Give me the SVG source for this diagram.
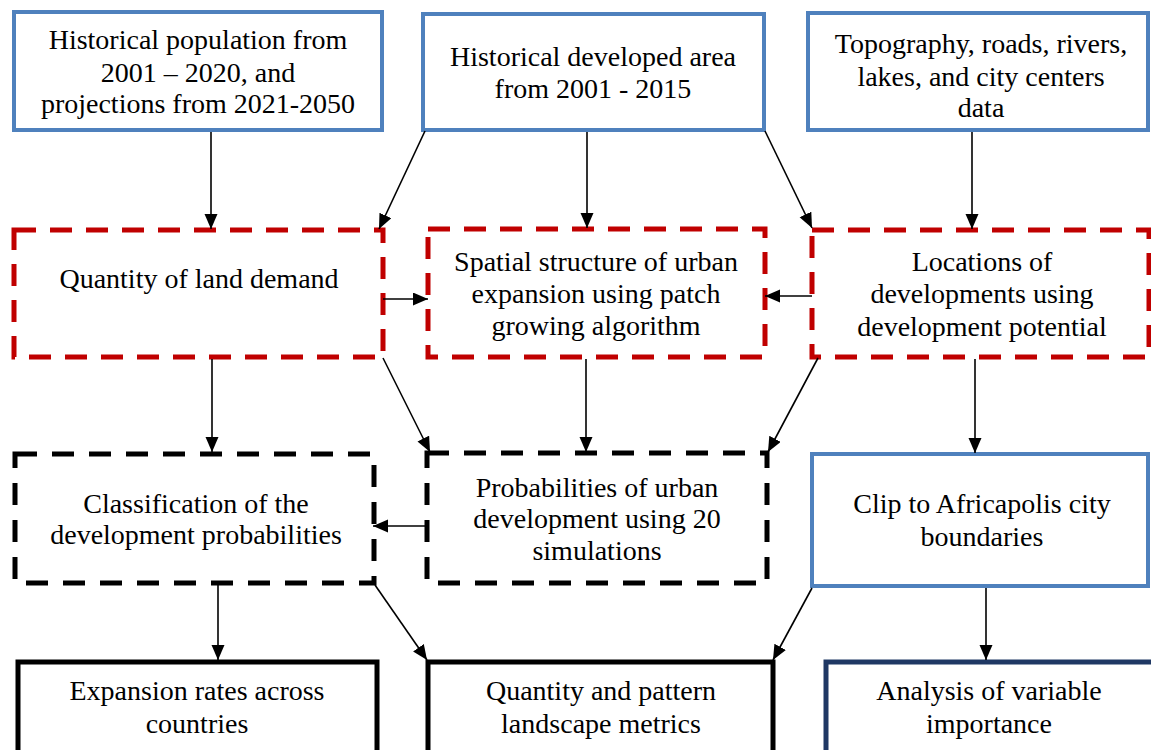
<svg xmlns="http://www.w3.org/2000/svg" width="1151" height="750" viewBox="0 0 1151 750">
<style>
text{font-size:28px;fill:#000;text-anchor:middle}
.blue{fill:#fff;stroke:#4F81BD;stroke-width:4}
.red{fill:#fff;stroke:#C00000;stroke-width:5;stroke-dasharray:22 14}
.bd{fill:#fff;stroke:#000;stroke-width:5;stroke-dasharray:22 15}
.blk{fill:#fff;stroke:#000;stroke-width:5}
.navy{fill:#fff;stroke:#1F3864;stroke-width:5}
.conn line{stroke:#000;stroke-width:1.6;marker-end:url(#ah)}
</style>
<defs>
<marker id="ah" markerUnits="userSpaceOnUse" markerWidth="16" markerHeight="14" refX="15" refY="6.5" orient="auto">
<path d="M0,0 L15,6.5 L0,13 z" fill="#000"/>
</marker>
</defs>
<rect width="1151" height="750" fill="#fff"/>
<g font-family="'Liberation Serif', 'DejaVu Serif', serif">
<g id="n1"><rect class="blue" x="14" y="12" width="368" height="118"/>
<text x="198" y="49">Historical population from</text>
<text x="198" y="82">2001 – 2020, and</text>
<text x="198" y="113">projections from 2021-2050</text></g>

<g id="n2"><rect class="blue" x="423" y="14" width="341" height="116"/>
<text x="593" y="66">Historical developed area</text>
<text x="593" y="98">from 2001 - 2015</text></g>

<g id="n3"><rect class="blue" x="808" y="13" width="340" height="117"/>
<text x="981" y="53">Topography, roads, rivers,</text>
<text x="981" y="86">lakes, and city centers</text>
<text x="981" y="117">data</text></g>

<g id="n4"><rect class="red" x="14" y="230" width="369" height="127"/>
<text x="199" y="288">Quantity of land demand</text></g>

<g id="n5"><rect class="red" x="428" y="229" width="337" height="128"/>
<text x="596" y="271">Spatial structure of urban</text>
<text x="596" y="303">expansion using patch</text>
<text x="596" y="335">growing algorithm</text></g>

<g id="n6"><rect class="red" x="812" y="230" width="337" height="127"/>
<text x="982" y="271">Locations of</text>
<text x="982" y="303">developments using</text>
<text x="982" y="336">development potential</text></g>

<g id="n7"><rect class="bd" x="15" y="454" width="359" height="129"/>
<text x="196" y="513">Classification of the</text>
<text x="196" y="544">development probabilities</text></g>

<g id="n8"><rect class="bd" x="427" y="453" width="340" height="130"/>
<text x="597" y="497">Probabilities of urban</text>
<text x="597" y="528">development using 20</text>
<text x="597" y="560">simulations</text></g>

<g id="n9"><rect class="blue" x="812" y="454" width="336" height="132"/>
<text x="982" y="513">Clip to Africapolis city</text>
<text x="982" y="546">boundaries</text></g>

<g id="n10"><rect class="blk" x="18" y="662" width="359" height="100"/>
<text x="197" y="700">Expansion rates across</text>
<text x="197" y="733">countries</text></g>

<g id="n11"><rect class="blk" x="428" y="662" width="345" height="100"/>
<text x="601" y="700">Quantity and pattern</text>
<text x="601" y="733">landscape metrics</text></g>

<g id="n12"><rect class="navy" x="826" y="662" width="330" height="100"/>
<text x="989" y="700">Analysis of variable</text>
<text x="989" y="733">importance</text></g>
</g>
<g class="conn" id="connectors">
<line x1="211" y1="132" x2="211" y2="229"/>
<line x1="425" y1="131" x2="379" y2="229"/>
<line x1="587" y1="132" x2="587" y2="228"/>
<line x1="765" y1="131" x2="812" y2="228"/>
<line x1="972" y1="132" x2="972" y2="229"/>
<line x1="383" y1="299" x2="428" y2="299"/>
<line x1="812" y1="296" x2="765" y2="296"/>
<line x1="212" y1="359" x2="212" y2="452"/>
<line x1="383" y1="358" x2="430" y2="452"/>
<line x1="586" y1="359" x2="586" y2="452"/>
<line x1="818" y1="358" x2="768" y2="452"/>
<line x1="975" y1="359" x2="975" y2="453"/>
<line x1="427" y1="526" x2="373" y2="526"/>
<line x1="218" y1="585" x2="218" y2="660"/>
<line x1="375" y1="585" x2="427" y2="660"/>
<line x1="812" y1="588" x2="773" y2="660"/>
<line x1="986" y1="588" x2="986" y2="660"/>
</g>
</svg>
